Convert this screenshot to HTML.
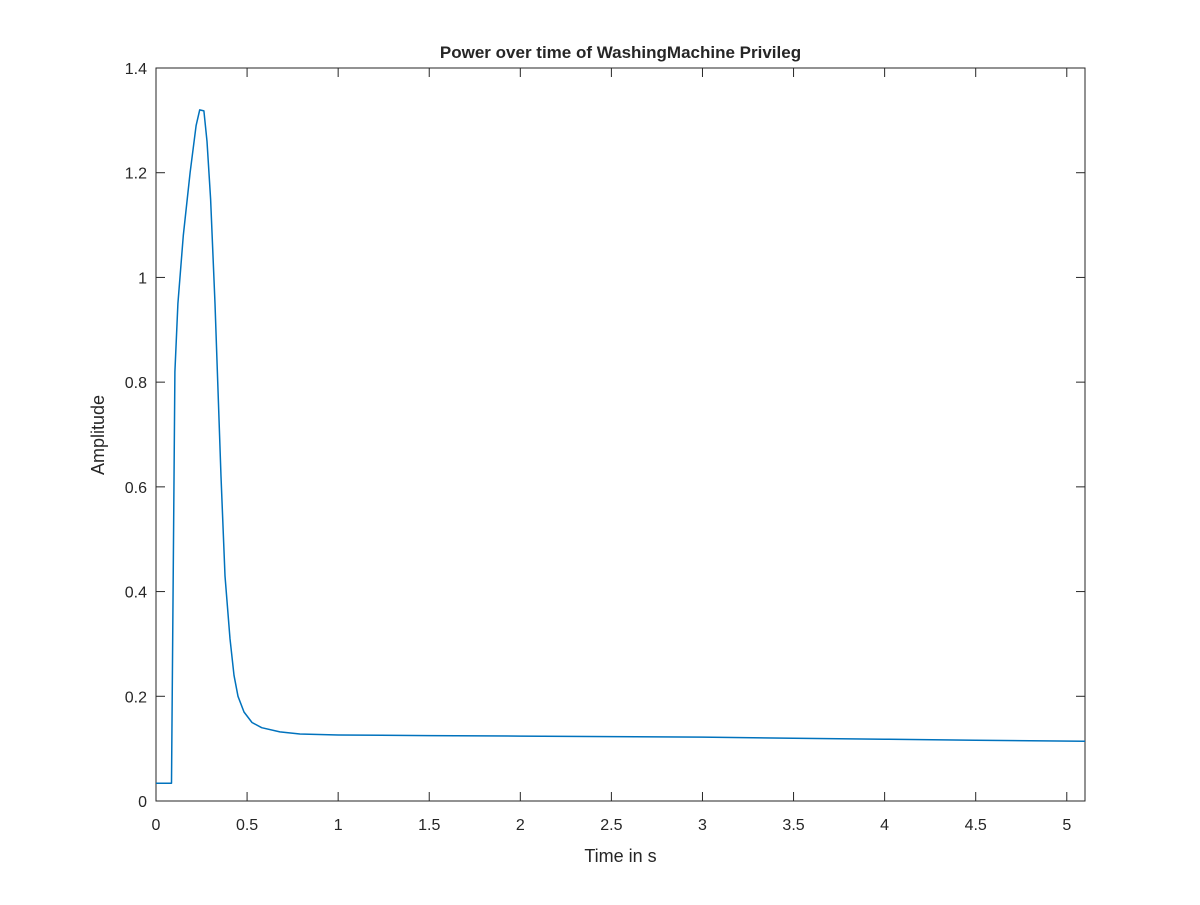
<!DOCTYPE html>
<html><head><meta charset="utf-8"><style>
body{margin:0;background:#fff;}
svg text{font-family:"Liberation Sans",Arial,sans-serif;fill:#262626;}
</style></head><body>
<svg id="chart" width="1200" height="900">
<rect width="1200" height="900" fill="#fff"/>
<g id="axes"></g>
</svg>
<script>
const times=[0,0.08,0.085,0.104,0.12,0.15,0.187,0.22,0.24,0.263,0.28,0.30,0.324,0.357,0.379,0.406,0.428,0.45,0.483,0.527,0.58,0.68,0.79,1.0,1.5,2.0,2.5,3.0,3.5,4.0,4.5,5.1];
const amps=[0.034,0.034,0.034,0.82,0.95,1.08,1.2,1.29,1.32,1.318,1.26,1.15,0.95,0.62,0.43,0.31,0.24,0.2,0.17,0.15,0.14,0.132,0.128,0.126,0.125,0.124,0.123,0.122,0.12,0.118,0.116,0.114];
const xTicks=[0,0.5,1,1.5,2,2.5,3,3.5,4,4.5,5];
const yTicks=[0,0.2,0.4,0.6,0.8,1,1.2,1.4];
const L=156,R=1085,T=68,B=801,XMAX=5.1,YMAX=1.4;
const sx=v=>L+v/XMAX*(R-L), sy=v=>B-v/YMAX*(B-T);
const NS="http://www.w3.org/2000/svg";
const g=document.getElementById('axes');
function mk(tag,attrs,txt){const e=document.createElementNS(NS,tag);for(const k in attrs)e.setAttribute(k,attrs[k]);if(txt!==undefined)e.textContent=txt;g.appendChild(e);return e;}
const box=mk('rect',{x:L,y:T,width:R-L,height:B-T,fill:'none',stroke:'#262626','stroke-width':1});


xTicks.forEach(v=>{const x=sx(v);
 const t1=mk('line',{x1:x,x2:x,y1:B,y2:B-9,stroke:'#262626'});
 
 
 const t2=mk('line',{x1:x,x2:x,y1:T,y2:T+9,stroke:'#262626'});
 
 
 const lb=mk('text',{x:x,y:B+29,'text-anchor':'middle','font-size':'16'},String(v));
 
 
});
yTicks.forEach(v=>{const y=sy(v);
 const t1=mk('line',{x1:L,x2:L+9,y1:y,y2:y,stroke:'#262626'});
 
 
 const t2=mk('line',{x1:R,x2:R-9,y1:y,y2:y,stroke:'#262626'});
 
 
 const lb=mk('text',{x:L-9,y:y+6,'text-anchor':'end','font-size':'16'},String(v));
 
 
});
const pts=times.map((t,i)=>sx(t).toFixed(1)+','+sy(amps[i]).toFixed(1)).join(' ');
const line=mk('polyline',{points:pts,fill:'none',stroke:'#0072bd','stroke-width':1.5,'stroke-linejoin':'round'});


const xt=mk('text',{x:(L+R)/2,y:862,'text-anchor':'middle','font-size':'18'},'Time in s');


const yt=mk('text',{x:0,y:0,'text-anchor':'middle','font-size':'18',transform:'translate(104,435) rotate(-90)'},'Amplitude');


const ti=mk('text',{x:(L+R)/2,y:58,'text-anchor':'middle','font-size':'17','font-weight':'bold'},'Power over time of WashingMachine Privileg');


</script>
</body></html>
